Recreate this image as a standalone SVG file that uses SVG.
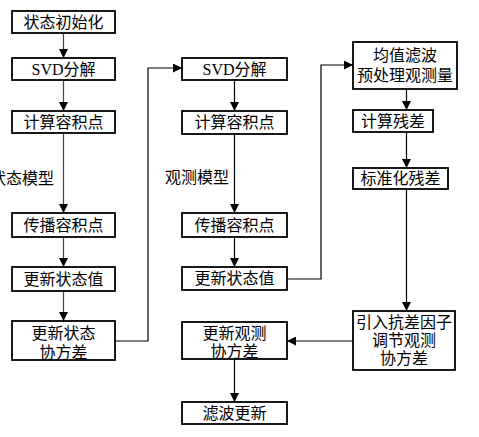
<svg xmlns="http://www.w3.org/2000/svg" width="479" height="437" viewBox="0 0 479 437">
<defs>
<marker id="ah" viewBox="0 0 10 10" refX="10" refY="5" markerWidth="9" markerHeight="9" markerUnits="userSpaceOnUse" orient="auto">
<path d="M0,0 L10,5 L0,10 Z" fill="#000"/>
</marker>
</defs>
<style>
.b{fill:#fff;stroke:#000;stroke-width:1.8}
.t{font-family:"Liberation Serif","Noto Sans CJK SC",serif;font-size:16px;fill:#000;text-anchor:middle}
.l{fill:none;stroke:#000;stroke-width:1.2}
.g{fill:none;stroke:#444;stroke-width:1.2}
</style>
<rect width="479" height="437" fill="#fff"/>
<g id="connectors">
<line class="g" x1="63.5" y1="33" x2="63.5" y2="58" marker-end="url(#ah)"/>
<line class="g" x1="63.5" y1="80" x2="63.5" y2="111" marker-end="url(#ah)"/>
<line class="g" x1="63.5" y1="132" x2="63.5" y2="213" marker-end="url(#ah)"/>
<line class="g" x1="63.5" y1="237" x2="63.5" y2="267" marker-end="url(#ah)"/>
<line class="g" x1="63.5" y1="291" x2="63.5" y2="321" marker-end="url(#ah)"/>
<polyline class="l" points="115,341 148,341 148,68 182,68" marker-end="url(#ah)"/>
<line class="l" x1="234.5" y1="80" x2="234.5" y2="111" marker-end="url(#ah)"/>
<line class="l" x1="234.5" y1="134" x2="234.5" y2="213" marker-end="url(#ah)"/>
<line class="l" x1="234.5" y1="237" x2="234.5" y2="267" marker-end="url(#ah)"/>
<polyline class="l" points="287,279 321,279 321,65 353,65" marker-end="url(#ah)"/>
<line class="l" x1="406.5" y1="89" x2="406.5" y2="110" marker-end="url(#ah)"/>
<line class="l" x1="406.5" y1="132" x2="406.5" y2="168" marker-end="url(#ah)"/>
<line class="l" x1="406.5" y1="189" x2="406.5" y2="311" marker-end="url(#ah)"/>
<line class="l" x1="353" y1="341" x2="287" y2="341" marker-end="url(#ah)"/>
<line class="l" x1="234.5" y1="359" x2="234.5" y2="402" marker-end="url(#ah)"/>
</g>
<g id="label-state-model"><text class="t" x="54" y="184" style="text-anchor:end">状态模型</text></g>
<g id="label-obs-model"><text class="t" x="165" y="183" style="text-anchor:start">观测模型</text></g>
<g id="n1"><rect class="b" x="12" y="11" width="103" height="22"/><text class="t" x="63.5" y="28">状态初始化</text></g>
<g id="n2"><rect class="b" x="12" y="58" width="103" height="22"/><text class="t" x="63.5" y="75">SVD分解</text></g>
<g id="n3"><rect class="b" x="12" y="111" width="103" height="22"/><text class="t" x="63.5" y="128">计算容积点</text></g>
<g id="n4"><rect class="b" x="12" y="213" width="103" height="24"/><text class="t" x="63.5" y="231">传播容积点</text></g>
<g id="n5"><rect class="b" x="12" y="267" width="103" height="24"/><text class="t" x="63.5" y="285">更新状态值</text></g>
<g id="n6"><rect class="b" x="12" y="321" width="103" height="39"/><text class="t" x="63.5" y="339">更新状态</text><text class="t" x="63.5" y="358">协方差</text></g>
<g id="m1"><rect class="b" x="182" y="58" width="105" height="22"/><text class="t" x="234.5" y="75">SVD分解</text></g>
<g id="m2"><rect class="b" x="182" y="111" width="105" height="23"/><text class="t" x="234.5" y="128">计算容积点</text></g>
<g id="m3"><rect class="b" x="182" y="213" width="105" height="24"/><text class="t" x="234.5" y="231">传播容积点</text></g>
<g id="m4"><rect class="b" x="182" y="267" width="105" height="23"/><text class="t" x="234.5" y="284">更新状态值</text></g>
<g id="m5"><rect class="b" x="182" y="322" width="105" height="37"/><text class="t" x="234.5" y="339">更新观测</text><text class="t" x="234.5" y="357">协方差</text></g>
<g id="m6"><rect class="b" x="182" y="402" width="105" height="22"/><text class="t" x="234.5" y="419">滤波更新</text></g>
<g id="r1"><rect class="b" x="353" y="42" width="104" height="47"/><text class="t" x="405" y="61">均值滤波</text><text class="t" x="405" y="81">预处理观测量</text></g>
<g id="r2"><rect class="b" x="353" y="110" width="80" height="22"/><text class="t" x="393" y="127">计算残差</text></g>
<g id="r3"><rect class="b" x="353" y="168" width="95" height="21"/><text class="t" x="400.5" y="184">标准化残差</text></g>
<g id="r4"><rect class="b" x="353" y="311" width="102" height="59"/><text class="t" x="404" y="328">引入抗差因子</text><text class="t" x="404" y="346">调节观测</text><text class="t" x="404" y="364">协方差</text></g>
</svg>
